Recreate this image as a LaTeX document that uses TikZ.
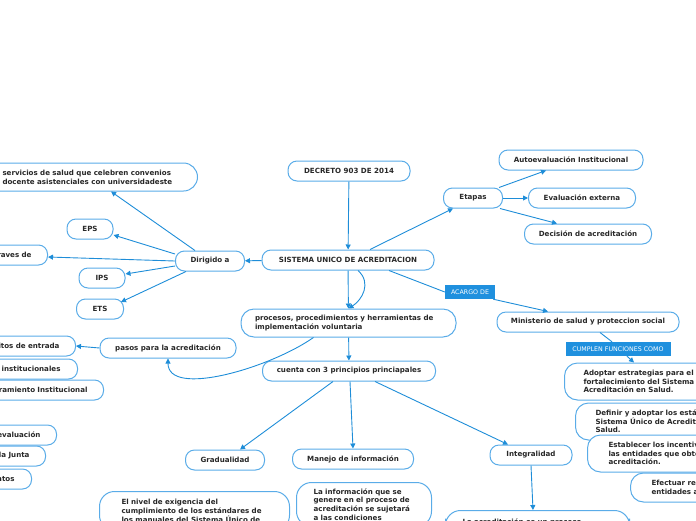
\documentclass[tikz,border=0pt]{standalone}
\usepackage{fontspec}
\setmainfont{DejaVu Sans}
\usepackage{tikz}
\usetikzlibrary{arrows.meta}

\definecolor{borde}{RGB}{90,172,232}
\definecolor{enlace}{RGB}{30,141,216}
\definecolor{etiq}{RGB}{31,144,222}
\definecolor{tinta}{RGB}{40,40,40}

\begin{document}
\begin{tikzpicture}[x=1pt, y=-1pt,
    font=\bfseries\fontsize{7.1}{8.7}\selectfont,
    box/.style={draw=borde, fill=white, line width=1pt, rounded corners=9pt,
        minimum height=20pt, inner sep=2pt, text=tinta},
    izq/.style={box, anchor=east, align=right, text width=110pt, inner xsep=16pt},
    der/.style={box, anchor=west, align=left, text width=150pt, rounded corners=13pt},
    bloque/.style={box, anchor=north west, align=left, rounded corners=15pt,
        inner ysep=6pt, minimum height=0pt},
    tag/.style={fill=etiq, text=white, font=\fontsize{6.3}{7}\selectfont,
        minimum height=14pt, inner sep=2pt},
    ar/.style={draw=enlace, line width=0.9pt, -{Triangle[length=5pt,width=5pt]}},
    ln/.style={draw=enlace, line width=0.9pt},
]
    \useasboundingbox (0,0) rectangle (696,520);
    \clip (0,0) rectangle (696,520);

    % ---------- centro ----------
    \node[box, minimum width=122pt] (decreto) at (349,171) {DECRETO 903 DE 2014};
    \node[box, minimum width=172pt] (sua) at (348,260) {SISTEMA UNICO DE ACREDITACION};
    \node[box, align=left, text width=187pt, inner xsep=14pt, minimum height=28pt,
        rounded corners=13pt] (procesos) at (348.5,323)
        {procesos, procedimientos y herramientas de\\implementación voluntaria};
    \node[box, minimum width=173pt] (cuenta) at (349,371) {cuenta con 3 principios princiapales};

    % ---------- rama izquierda ----------
    \node[box, minimum width=69pt] (dirigido) at (210,261) {Dirigido a};
    \node[box, anchor=east, align=left, text width=172pt, inner xsep=23pt,
        minimum height=28pt, rounded corners=14pt] (convenios) at (198,177)
        {servicios de salud que celebren convenios\\docente asistenciales con universidadeste};
    \node[box, minimum width=46pt] (eps) at (90,229) {EPS};
    \node[izq] (traves) at (48,255) {raves de};
    \node[box, minimum width=46pt] (ips) at (102,278) {IPS};
    \node[box, minimum width=47pt] (ets) at (100,309) {ETS};

    \node[box, minimum width=136pt] (pasos) at (168,348) {pasos para la acreditación};
    \node[izq] (requisitos) at (76,346) {itos de entrada};
    \node[izq, inner xsep=17pt] (condiciones) at (78,369) {s institucionales};
    \node[izq] (mejora) at (104,390) {ramiento Institucional};
    \node[izq] (autoev) at (57,435) {evaluación};
    \node[izq] (junta) at (46,456) {la Junta};
    \node[izq, inner xsep=17pt] (ntos) at (32,479) {ntos};

    % ---------- principios ----------
    \node[box, minimum width=79pt] (grad) at (225,460) {Gradualidad};
    \node[box, minimum width=121pt] (manejo) at (353,459) {Manejo de información};
    \node[box, minimum width=82pt] (integ) at (531,455) {Integralidad};
    \node[bloque, text width=146pt, inner xsep=22pt, inner ysep=8pt] (nivel) at (99,491)
        {El nivel de exigencia del\\cumplimiento de los estándares de\\los manuales del Sistema Único de};
    \node[bloque, text width=101pt, inner xsep=17pt] (info) at (296,482)
        {La información que se\\genere en el proceso de\\acreditación se sujetará\\a las condiciones};
    \node[bloque, text width=150pt, inner xsep=17pt, inner ysep=8pt] (integtxt) at (445,510)
        {La acreditación es un proceso};

    % ---------- rama derecha ----------
    \node[box, minimum width=59pt] (etapas) at (473,198) {Etapas};
    \node[box, minimum width=144pt] (autoinst) at (571,160) {Autoevaluación Institucional};
    \node[box, minimum width=107pt] (externa) at (582,198) {Evaluación externa};
    \node[box, minimum width=127pt] (decision) at (588,234) {Decisión de acreditación};

    \node[tag, minimum width=50pt] (acargo) at (470,292) {ACARGO DE};
    \node[box, minimum width=182pt] (minist) at (588,322) {Ministerio de salud y proteccion social};
    \node[tag, minimum width=105pt] (cumplen) at (618,349) {CUMPLEN FUNCIONES COMO};
    \node[der, inner xsep=19pt, minimum height=37pt] (adoptar) at (564,381.5)
        {Adoptar estrategias para el\\fortalecimiento del Sistema Ú\\Acreditación en Salud.};
    \node[der, inner xsep=20pt, minimum height=37pt] (definir) at (575,421.5)
        {Definir y adoptar los están\\Sistema Único de Acredita\\Salud.};
    \node[der, inner xsep=21pt, minimum height=37pt] (establecer) at (587,453.5)
        {Establecer los incentiv\\las entidades que obte\\acreditación.};
    \node[der, inner xsep=21pt, minimum height=29pt] (efectuar) at (630,487.5)
        {Efectuar rec\\entidades a};

    % ---------- conectores ----------
    \draw[ar] (decreto) -- (sua);
    \draw[ar] (sua) -- (dirigido);
    \draw[ar] (sua) -- (procesos);
    \draw[ar] ([xshift=10pt]sua.south) .. controls (372,283) and (362,300) .. (procesos.north);
    \draw[ar] ([xshift=-35pt]procesos.south) .. controls (270,368) and (168,398) .. (pasos.south);
    \draw[ar] (procesos) -- (cuenta);

    \draw[ar] ([xshift=-15pt]dirigido.north) -- ([xshift=-87pt]convenios.south east);
    \draw[ar] ([yshift=7pt]dirigido.west) -- ([yshift=-6pt]eps.east);
    \draw[ar] (dirigido.west) -- ([yshift=-2pt]traves.east);
    \draw[ar] ([yshift=-5pt]dirigido.west) -- ([yshift=4pt]ips.east);
    \draw[ar] ([xshift=-24pt]dirigido.south) -- ([xshift=-3pt,yshift=7pt]ets.east);
    \draw[ar] (pasos.west) -- (requisitos.east);

    \draw[ar] ([xshift=-16pt]cuenta.south) -- ([xshift=15pt]grad.north);
    \draw[ar] ([xshift=1pt]cuenta.south) -- (manejo.north);
    \draw[ar] ([xshift=26pt]cuenta.south) -- ([xshift=-23pt]integ.north);
    \draw[ar] (integ.south) -- ([xshift=88pt]integtxt.north west);

    \draw[ar] ([xshift=22pt]sua.north) -- ([xshift=10pt]etapas.south west);
    \draw[ar] ([xshift=-4pt]etapas.north east) -- ([xshift=-25pt]autoinst.south);
    \draw[ar] (etapas.east) -- (externa.west);
    \draw[ar] ([xshift=-3pt]etapas.south east) -- ([xshift=-31pt]decision.north);

    \draw[ln] ([xshift=41pt]sua.south) -- (acargo.west);
    \draw[ar] ([xshift=-2pt]acargo.south east) -- ([xshift=-40pt]minist.north);
    \draw[ln] ([xshift=12pt]minist.south) -- ([xshift=-6pt]cumplen.north);
    \draw[ar] ([xshift=9pt]cumplen.south) -- ([xshift=70pt]adoptar.north west);
\end{tikzpicture}
\end{document}
